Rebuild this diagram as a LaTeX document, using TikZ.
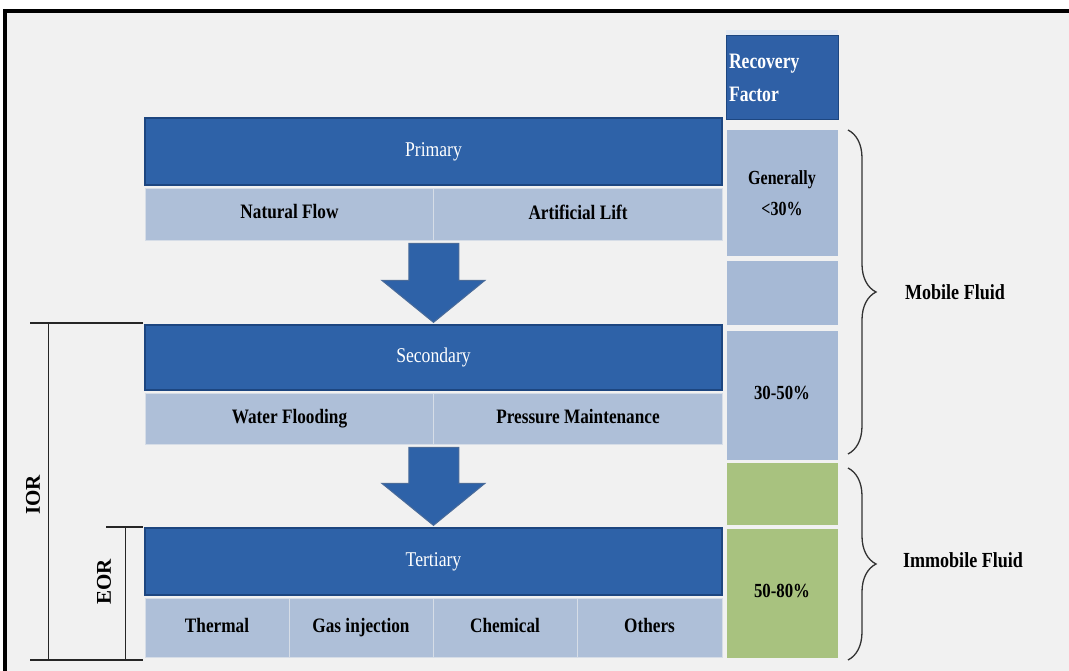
\documentclass[tikz,border=0pt]{standalone}
\usepackage{fontspec}
\setmainfont{Liberation Serif}
\usetikzlibrary{calc,decorations.pathreplacing,positioning}
\definecolor{bgc}{HTML}{F1F1F1}
\definecolor{barblue}{HTML}{2E62A8}
\definecolor{barline}{HTML}{1D4680}
\definecolor{subblue}{HTML}{AEBFD8}
\definecolor{colblue}{HTML}{A6B9D5}
\definecolor{colgreen}{HTML}{A8C27F}
\definecolor{hdrblue}{HTML}{2F60A6}
\newcommand{\cond}[1]{\scalebox{0.84}[1]{\vphantom{Ay}#1}}
\newcommand{\condn}[1]{\scalebox{0.8}[1]{#1}}
\tikzset{
  bar/.style={draw=barline, line width=1.2pt, fill=barblue, text=white, inner sep=0pt,
    font=\fontsize{21}{23}\selectfont, minimum width=577pt},
  sub/.style={draw=bgc!60!subblue, line width=0.8pt, fill=subblue, text=black, inner sep=0pt,
    font=\bfseries\fontsize{20.5}{22}\selectfont},
  cell/.style={draw=bgc, line width=1pt, fill=colblue, text=black, inner sep=0pt,
    minimum width=112pt, font=\bfseries\fontsize{20}{31}\selectfont, align=center},
  gcell/.style={cell, fill=colgreen},
  blockarrow/.style={fill=barblue, draw=barline!80!white, line width=1pt, line join=miter},
  bracket/.style={draw=black!85, line width=1.2pt},
  lab/.style={font=\bfseries\fontsize{21.5}{24}\selectfont, text=black},
  sidelab/.style={font=\bfseries\fontsize{21}{23}\selectfont, text=black, rotate=90},
  bracebar/.style={draw=black!80, line width=1.3pt, decorate,
    decoration={brace, amplitude=28pt, raise=0pt}}
}
\begin{document}
\begin{tikzpicture}[x=1pt,y=-1pt]
\useasboundingbox (0,0) rectangle (1069,671);
\fill[white] (0,0) rectangle (1069,671);
\fill[bgc] (5,11) rectangle (1069,671);
\draw[line width=4pt, line cap=rect] (5,675) -- (5,11) -- (1072,11);

% Primary
\node[bar, minimum height=67pt] (prim) at (433.5,151.5) {\cond{Primary}};
\node[sub, minimum width=288pt, minimum height=52pt] (nf) at (289.5,214) {\cond{Natural Flow}};
\node[sub, minimum width=289pt, minimum height=52pt] (al) at (578,214) {\cond{Artificial Lift}};

% Secondary
\node[bar, minimum height=65pt] (sec) at (433.5,357.5) {\cond{Secondary}};
\node[sub, minimum width=288pt, minimum height=51pt] (wf) at (289.5,418.5) {\cond{Water Flooding}};
\node[sub, minimum width=289pt, minimum height=51pt] (pm) at (578,418.5) {\cond{Pressure Maintenance}};

% Tertiary
\node[bar, minimum height=67pt] (ter) at (433.5,561.5) {\cond{Tertiary}};
\node[sub, minimum width=144pt, minimum height=59pt] (th) at (217,627.5) {\cond{Thermal}};
\node[sub, minimum width=144pt, minimum height=59pt] (gi) at (361,627.5) {\cond{Gas injection}};
\node[sub, minimum width=144pt, minimum height=59pt] (ch) at (505,627.5) {\cond{Chemical}};
\node[sub, minimum width=145pt, minimum height=59pt] (ot) at (649.5,627.5) {\cond{Others}};

% Block arrows
\draw[blockarrow] ($(nf.south east)+(-25,3)$) -- ++(50,0) -- ++(0,37) -- ++(26,0)
  -- ($(sec.north)+(0,-2)$) -- ($(nf.south east)+(-52,40)$) -- ++(27,0) -- cycle;
\draw[blockarrow] ($(wf.south east)+(-25,3)$) -- ++(50,0) -- ++(0,36) -- ++(26,0)
  -- ($(ter.north)+(0,-2)$) -- ($(wf.south east)+(-52,39)$) -- ++(27,0) -- cycle;

% Recovery factor column
\fill[white!70!colblue] (726,30) rectangle (838,37);
\node[cell, fill=hdrblue, draw=barline, minimum height=84pt, text=white, align=left,
  font=\bfseries\fontsize{22}{33}\selectfont] (rf) at (782,78)
  {\begin{minipage}{106pt}\condn{Recovery}\\\condn{Factor}\end{minipage}};
\node[cell, minimum height=127pt] (c1) at (782,193.5) {\condn{Generally}\\\condn{<30\%}};
\node[cell, minimum height=64pt] (c2) at (782,293) {};
\node[cell, minimum height=130pt] (c3) at (782,395) {\cond{30-50\%}};
\node[gcell, minimum height=63pt] (c4) at (782,493.5) {};
\node[gcell, minimum height=130pt] (c5) at (782,593) {\cond{50-80\%}};

% Braces
\coordinate (mb1) at (848,130);
\coordinate (mb2) at (848,454);
\draw[bracebar] (mb1) -- (mb2);
\node[lab] (mob) at (955,294) {\cond{Mobile Fluid}};
\coordinate (ib1) at (848,468);
\coordinate (ib2) at (848,660);
\draw[bracebar] (ib1) -- (ib2);
\node[lab] (imm) at (963,562) {\cond{Immobile Fluid}};

% IOR / EOR brackets
\coordinate (i1) at (30,323);
\coordinate (i2) at (143,323);
\coordinate (i3) at (30,660);
\coordinate (i4) at (143,660);
\draw[bracket] (i1) -- (i2);
\draw[bracket] (i3) -- (i4);
\draw[bracket, line width=0.9pt] (48,323) -- (48,660);
\coordinate (e1) at (106,527);
\coordinate (e2) at (143,527);
\draw[bracket] (e1) -- (e2);
\draw[bracket, line width=0.9pt] (125,527) -- (125,660);
\node[sidelab] (ior) at (33,495) {IOR};
\node[sidelab] (eor) at (104,582) {EOR};
\end{tikzpicture}
\end{document}
